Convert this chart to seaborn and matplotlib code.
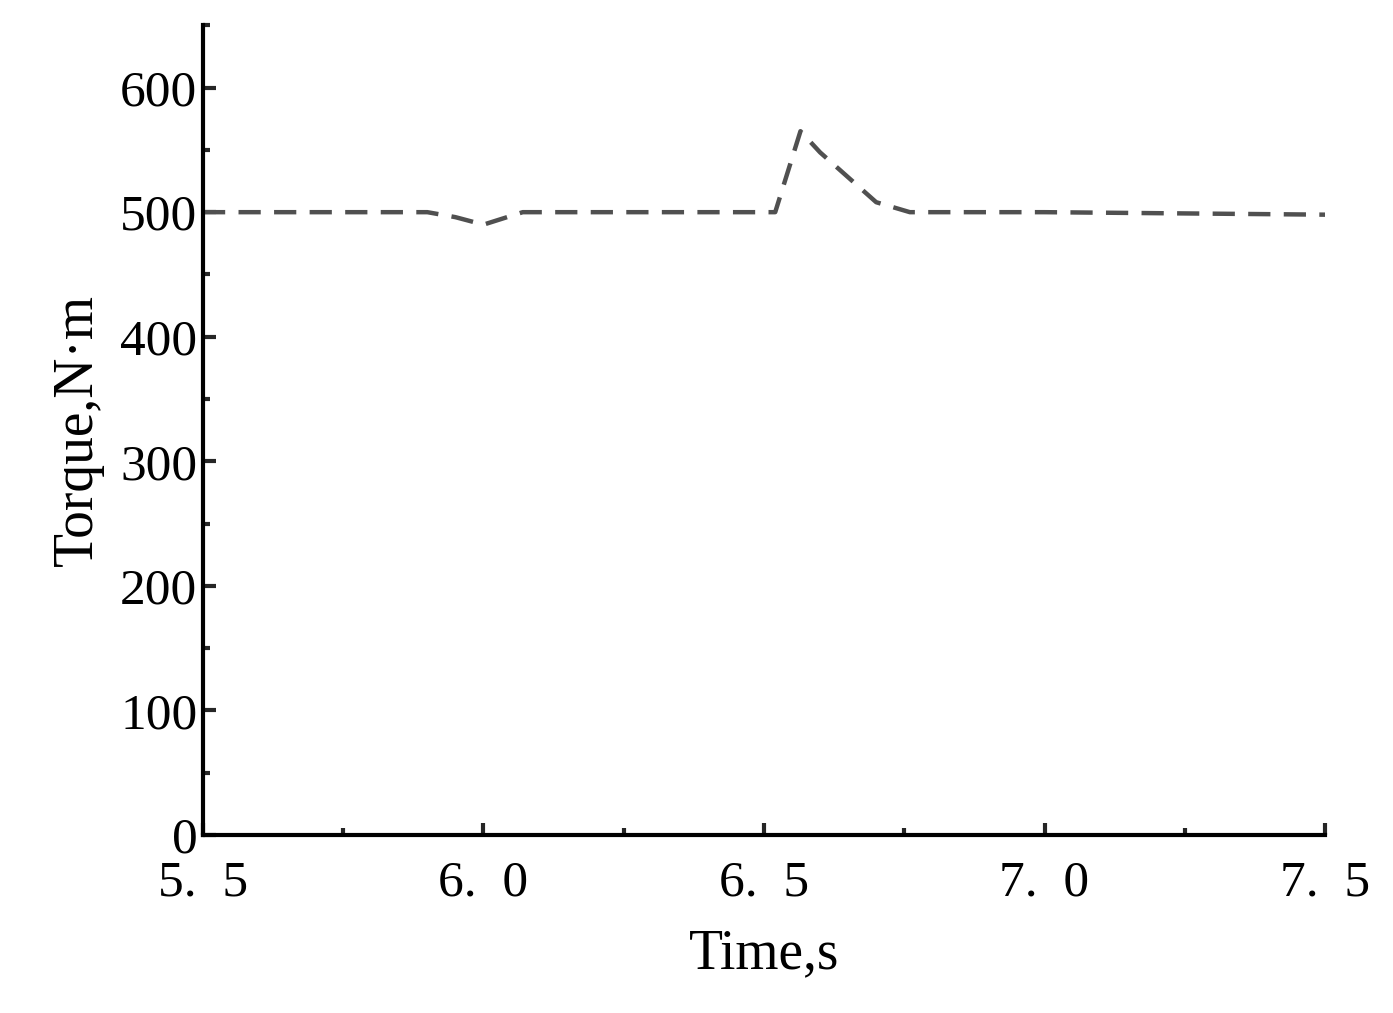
import numpy as np
import pandas as pd
import matplotlib
matplotlib.use('Agg')
import matplotlib.pyplot as plt
import seaborn as sns
from matplotlib.ticker import MultipleLocator, FixedLocator

# 数据
time_s = [5.5, 5.9, 5.95, 6.0, 6.07, 6.52, 6.565, 6.6, 6.7, 6.76, 7.0, 7.5]
torque = [500, 500, 496, 490, 500, 500, 565, 548, 508, 500, 500, 498]
x_ticks = [5.5, 6.0, 6.5, 7.0, 7.5]
x_labels = ['5.  5', '6.  0', '6.  5', '7.  0', '7.  5']

sns.set_style('white')
plt.rcParams['font.family'] = ['Liberation Serif', 'DejaVu Serif']

fig = plt.figure(figsize=(13.93, 10.13), dpi=100)
ax = fig.add_axes([0.1457, 0.1757, 0.8055, 0.7993])
df = pd.DataFrame({'t': time_s, 'T': torque})
sns.lineplot(data=df, x='t', y='T', ax=ax, color='#505050', linewidth=3.2,
             dashes=False, linestyle=(0, (5, 3)))

ax.set_xlim(5.5, 7.5)
ax.set_ylim(0, 650)
ax.xaxis.set_major_locator(FixedLocator(x_ticks))
ax.set_xticklabels(x_labels)
ax.xaxis.set_minor_locator(MultipleLocator(0.25))
ax.yaxis.set_major_locator(FixedLocator([0, 100, 200, 300, 400, 500, 600]))
ax.yaxis.set_minor_locator(MultipleLocator(50))
for s in ['top', 'right']:
    ax.spines[s].set_visible(False)
for s in ['left', 'bottom']:
    ax.spines[s].set_linewidth(3)
    ax.spines[s].set_color('black')
ax.tick_params(which='major', direction='in', length=9, width=3, labelsize=37,
               labelcolor='black', pad=6)
ax.tick_params(which='minor', direction='in', length=5, width=3)
ax.tick_params(axis='x', which='both', top=False, bottom=True, pad=18)
ax.tick_params(axis='y', which='both', left=True, right=False, pad=4)
ax.set_xlabel('Time,s', fontsize=40, labelpad=16, color='black')
ax.set_ylabel('Torque,N·m', fontsize=40, labelpad=12, color='black')

fig.savefig('out.png', dpi=100)
